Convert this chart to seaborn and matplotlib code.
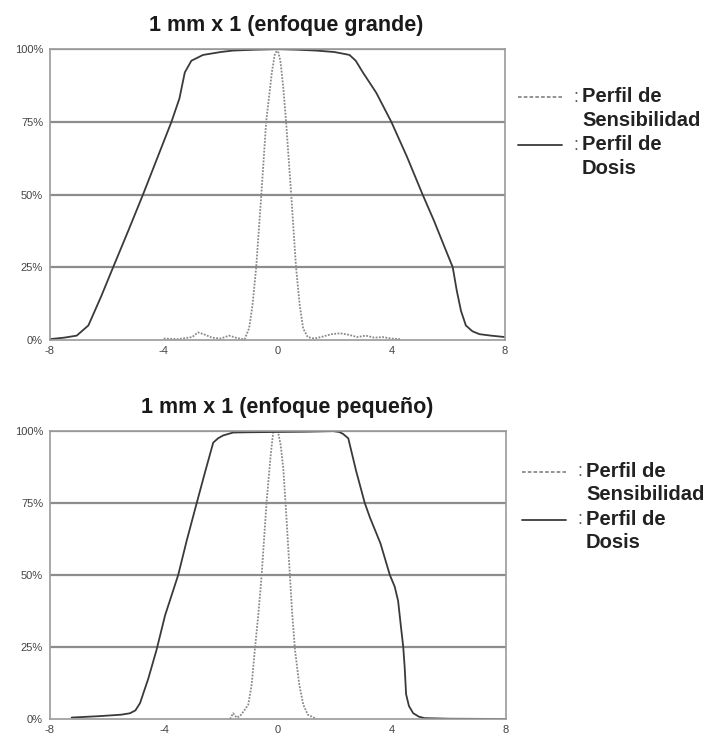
import numpy as np
import pandas as pd
import matplotlib.pyplot as plt
import seaborn as sns
from matplotlib.lines import Line2D
from matplotlib.ticker import FuncFormatter

# ---- data (position in mm, relative response in %) ----
# enfoque grande
dose_big_x = [-8.0, -7.5, -7.06, -6.65, -6.2, -5.78, -5.25, -4.73, -4.23, -3.73, -3.45,
              -3.26, -3.03, -2.62, -2.0, -1.57, -0.8, 0.0, 0.7, 1.36, 2.0, 2.53, 2.75,
              3.0, 3.47, 4.0, 4.55, 5.1, 5.5, 5.87, 6.16, 6.3, 6.45, 6.62, 6.85, 7.1, 7.5, 8.0]
dose_big_y = [0.3, 0.8, 1.5, 5.0, 15.0, 25.0, 37.5, 50.0, 62.5, 75.0, 83.0,
              92.0, 96.0, 98.0, 99.0, 99.5, 99.8, 100.0, 99.8, 99.5, 99.0, 98.0, 96.0,
              92.0, 85.0, 75.0, 63.0, 50.0, 41.0, 32.0, 25.0, 17.0, 10.0, 5.0, 3.0, 2.0, 1.5, 1.0]

sens_big_x = [-4.0, -3.5, -3.0, -2.8, -2.6, -2.3, -2.0, -1.7, -1.4, -1.16, -1.0, -0.88,
              -0.75, -0.57, -0.4, -0.2, -0.1, 0.0, 0.1, 0.2, 0.3, 0.48, 0.65, 0.78,
              0.9, 1.06, 1.3, 1.6, 1.9, 2.2, 2.5, 2.8, 3.1, 3.4, 3.7, 4.0, 4.3]
sens_big_y = [0.5, 0.3, 1.0, 2.6, 2.0, 0.8, 0.5, 1.5, 0.6, 0.2, 4.0, 12.0,
              25.0, 50.0, 75.0, 92.0, 98.0, 100.0, 96.0, 87.0, 75.0, 50.0, 25.0, 12.0,
              4.0, 1.0, 0.5, 1.2, 2.0, 2.3, 1.8, 1.0, 1.5, 0.8, 1.0, 0.5, 0.3]

# enfoque pequeño
dose_small_x = [-7.24, -6.25, -5.5, -5.19, -5.0, -4.84, -4.55, -4.26, -3.96, -3.5, -3.2,
                -2.85, -2.55, -2.27, -2.1, -1.92, -1.57, -1.0, 0.0, 1.0, 1.94, 2.15,
                2.29, 2.47, 2.75, 3.05, 3.23, 3.6, 3.93, 4.1, 4.22, 4.32, 4.4, 4.45,
                4.5, 4.6, 4.75, 4.95, 5.15, 6.0, 8.0]
dose_small_y = [0.5, 1.0, 1.5, 2.0, 3.0, 5.5, 14.0, 24.0, 36.0, 50.0, 62.0,
                75.0, 86.0, 96.0, 97.5, 98.5, 99.5, 99.6, 99.7, 99.8, 100.0, 99.7,
                99.0, 97.5, 86.0, 75.0, 70.0, 61.0, 50.0, 46.0, 41.0, 32.0, 25.0, 18.0,
                8.6, 4.5, 2.0, 0.8, 0.3, 0.1, 0.0]

sens_small_x = [-1.68, -1.57, -1.45, -1.33, -1.18, -1.04, -0.92, -0.81, -0.68, -0.57,
                -0.4, -0.25, -0.16, 0.0, 0.1, 0.19, 0.3, 0.42, 0.5, 0.6, 0.75, 0.89,
                1.05, 1.3]
sens_small_y = [0.0, 2.0, 0.5, 1.0, 3.0, 5.0, 12.0, 24.0, 37.0, 50.0,
                75.0, 92.0, 100.0, 100.0, 95.0, 87.0, 70.0, 50.0, 37.0, 24.0, 12.0, 5.0,
                1.5, 0.3]

titles = ["1 mm x 1 (enfoque grande)", "1 mm x 1 (enfoque pequeño)"]
legend_labels = ["Perfil de\nSensibilidad", "Perfil de\nDosis"]
x_ticks = [-8, -4, 0, 4, 8]
y_ticks = [0, 25, 50, 75, 100]

panels = [
    (dose_big_x, dose_big_y, sens_big_x, sens_big_y),
    (dose_small_x, dose_small_y, sens_small_x, sens_small_y),
]

sns.set_style("white")
plt.rcParams['font.family'] = ['Liberation Sans', 'DejaVu Sans']
plt.rcParams['axes.unicode_minus'] = False

fig = plt.figure(figsize=(7.10, 7.42), dpi=100)
ax_top = fig.add_axes([0.0704, 0.5418, 0.641, 0.392])
ax_bot = fig.add_axes([0.0704, 0.0310, 0.642, 0.388])

dose_color = "#3a3a3a"
sens_color = "#8a8a8a"
grid_color = "#8c8c8c"

for ax, (dx, dy, sx, sy), title in zip([ax_top, ax_bot], panels, titles):
    for yv in y_ticks[1:]:
        ax.axhline(yv, color=grid_color, lw=1.6, zorder=0)
    sens_df = pd.DataFrame({"x": sx, "y": sy})
    dose_df = pd.DataFrame({"x": dx, "y": dy})
    sns.lineplot(data=sens_df, x="x", y="y", ax=ax, color=sens_color,
                 lw=1.3, linestyle=(0, (1.0, 0.8)), sort=False)
    sns.lineplot(data=dose_df, x="x", y="y", ax=ax, color=dose_color,
                 lw=1.3, sort=False)
    ax.set_xlim(-8, 8)
    ax.set_ylim(0, 100)
    ax.set_xticks(x_ticks)
    ax.set_yticks(y_ticks)
    ax.yaxis.set_major_formatter(FuncFormatter(lambda v, p: f"{v:.0f}%"))
    ax.set_xlabel("")
    ax.set_ylabel("")
    ax.tick_params(axis="both", labelsize=8, colors="#444444", length=3,
                   width=0.8, pad=2)
    ax.tick_params(axis="x", direction="in", pad=4)
    for sp in ax.spines.values():
        sp.set_color("#9a9a9a")
        sp.set_linewidth(1.2)
    ax.set_title(title, fontsize=15.5, fontweight="bold", color="#1a1a1a",
                 x=0.52, pad=13)

# legends drawn beside each panel
legend_rows = [(97, 145), (472, 520)]
for (y_sens, y_dose), x0 in zip(legend_rows, [518, 522]):
    for yy, ls, col, lab in [(y_sens, (0, (2.0, 1.2)), sens_color, legend_labels[0]),
                             (y_dose, "-", dose_color, legend_labels[1])]:
        fy = 1 - yy / 742
        fig.add_artist(Line2D([x0 / 710, (x0 + 44) / 710], [fy, fy],
                              color=col, lw=1.3, linestyle=ls,
                              transform=fig.transFigure))
        fig.text((x0 + 55) / 710, fy, ":", fontsize=13, color="#555555",
                 va="center", ha="left")
        fig.text((x0 + 64) / 710, fy + 10 / 742, lab, fontsize=14.5,
                 fontweight="bold", color="#222222", va="top", ha="left",
                 linespacing=1.3)

fig.savefig("out.png", dpi=100)
